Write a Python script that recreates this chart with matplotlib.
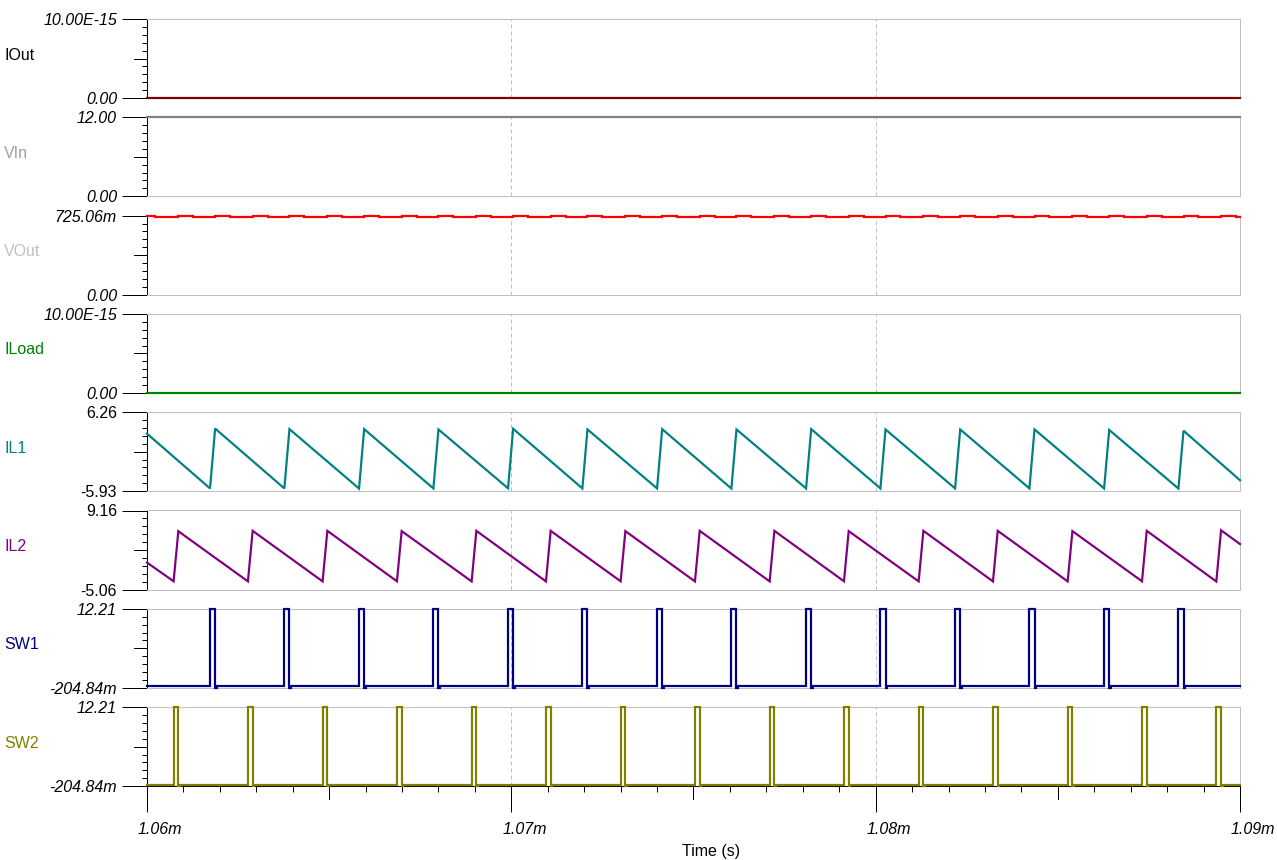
import matplotlib
matplotlib.use('Agg')
import matplotlib.pyplot as plt

plt.rcParams['font.family'] = ['Liberation Sans', 'DejaVu Sans']

W, H, DPI = 1277, 860, 100

# ---------------- data (time in microseconds) ----------------
T0, T1 = 1060.0, 1090.0
x_major = [1060, 1070, 1080, 1090]
x_major_labels = ['1.06m', '1.07m', '1.08m', '1.09m']
x_mid = [1065, 1075, 1085]
x_minor = list(range(1061, 1090))
x_grid = [1070, 1080]

names = ['IOut', 'VIn', 'VOut', 'ILoad', 'IL1', 'IL2', 'SW1', 'SW2']
y_bottom = [0.0, 0.0, 0.0, 0.0, -5.93, -5.06, -0.20484, -0.20484]
y_top = [10e-15, 12.0, 0.72506, 10e-15, 6.26, 9.16, 12.21, 12.21]
y_bottom_labels = ['0.00', '0.00', '0.00', '0.00', '-5.93', '-5.06', '-204.84m', '-204.84m']
y_top_labels = ['10.00E-15', '12.00', '725.06m', '10.00E-15', '6.26', '9.16', '12.21', '12.21']
label_italic = [True, True, True, True, False, False, True, True]
line_colors = ['#800000', '#808080', '#FF0000', '#008000', '#008080', '#800080', '#000080', '#808000']
name_colors = ['#000000', '#A0A0A0', '#C0C0C0', '#008000', '#008080', '#800080', '#000080', '#808000']

iout_t = [1060.0, 1090.0]
iout_v = [0.0, 0.0]
vin_t = [1060.0, 1090.0]
vin_v = [12.0, 12.0]
iload_t = [1060.0, 1090.0]
iload_v = [0.0, 0.0]

# IL1 (phase 1 inductor current): troughs and peaks per cycle
il1_trough_t = [1061.73, 1063.77, 1065.82, 1067.86, 1069.91, 1071.95, 1074.00,
                1076.04, 1078.09, 1080.13, 1082.18, 1084.22, 1086.27, 1088.31]
il1_peak_t = [1061.87, 1063.91, 1065.96, 1068.00, 1070.05, 1072.09, 1074.14,
              1076.18, 1078.23, 1080.27, 1082.32, 1084.36, 1086.41, 1088.45]
il1_trough_v = [-5.50, -5.50, -5.52, -5.50, -5.48, -5.50, -5.50,
                -5.52, -5.50, -5.50, -5.50, -5.50, -5.50, -5.52]
il1_peak_v = [3.74, 3.65, 3.65, 3.60, 3.70, 3.60, 3.65,
              3.60, 3.65, 3.60, 3.60, 3.60, 3.52, 3.40]
il1_start_v, il1_end_v = 2.95, -4.24

# IL2 (phase 2 inductor current)
il2_trough_t = [1060.73, 1062.77, 1064.82, 1066.86, 1068.91, 1070.95, 1073.00,
                1075.04, 1077.09, 1079.13, 1081.18, 1083.22, 1085.27, 1087.31, 1089.35]
il2_peak_t = [1060.86, 1062.90, 1064.95, 1066.99, 1069.04, 1071.08, 1073.13,
              1075.17, 1077.22, 1079.26, 1081.31, 1083.35, 1085.40, 1087.44, 1089.48]
il2_trough_v = [-3.58, -3.60, -3.60, -3.58, -3.60, -3.60, -3.58,
                -3.60, -3.60, -3.58, -3.60, -3.60, -3.60, -3.58, -3.62]
il2_peak_v = [5.43, 5.50, 5.50, 5.45, 5.50, 5.50, 5.45,
              5.50, 5.50, 5.45, 5.50, 5.50, 5.45, 5.50, 5.60]
il2_start_v, il2_end_v = -0.21, 3.12

# VOut ripple: high level after each inductor peak
vout_high, vout_low = 0.725, 0.716
vout_first_drop_t = 1060.22
vout_rise_t = sorted(il1_peak_t + il2_peak_t)
vout_high_dur = 0.41

# switch nodes
sw_high, sw_low, sw_under = 12.15, 0.0, -0.20
sw_under_dur = 0.04


# ---------------- build polylines from the read vertices ----------------
def sawtooth(start_v, tr_t, tr_v, pk_t, pk_v, end_v):
    t, v = [T0], [start_v]
    for a, b, c, d in zip(tr_t, tr_v, pk_t, pk_v):
        t += [a, c]
        v += [b, d]
    t.append(T1)
    v.append(end_v)
    return t, v


def pulses(tr_t, pk_t):
    t, v = [T0], [sw_low]
    for a, c in zip(tr_t, pk_t):
        t += [a, a, c, c, c + sw_under_dur, c + sw_under_dur]
        v += [sw_low, sw_high, sw_high, sw_under, sw_under, sw_low]
    t.append(T1)
    v.append(sw_low)
    return t, v


def vout_wave():
    t, v = [T0, vout_first_drop_t, vout_first_drop_t], [vout_high, vout_high, vout_low]
    for r in vout_rise_t:
        e = min(r + vout_high_dur, T1)
        t += [r, r, e, e]
        v += [vout_low, vout_high, vout_high, vout_low]
    t.append(T1)
    v.append(vout_low)
    return t, v


series = [
    (iout_t, iout_v),
    (vin_t, vin_v),
    vout_wave(),
    (iload_t, iload_v),
    sawtooth(il1_start_v, il1_trough_t, il1_trough_v, il1_peak_t, il1_peak_v, il1_end_v),
    sawtooth(il2_start_v, il2_trough_t, il2_trough_v, il2_peak_t, il2_peak_v, il2_end_v),
    pulses(il1_trough_t, il1_peak_t),
    pulses(il2_trough_t, il2_peak_t),
]

# ---------------- layout ----------------
fig = plt.figure(figsize=(W / DPI, H / DPI), dpi=DPI)
LEFT, RIGHT = 147, 1240
PANEL_TOP0, PANEL_STEP, PANEL_H = 19, 98.3, 79
px = 72.0 / DPI  # points per pixel
GRAY = '#C0C0C0'
FS = 11.5

for i, name in enumerate(names):
    top = PANEL_TOP0 + PANEL_STEP * i
    ax = fig.add_axes([LEFT / W, 1 - (top + PANEL_H) / H, (RIGHT - LEFT) / W, PANEL_H / H])
    ax.set_xlim(T0, T1)
    ax.set_ylim(y_bottom[i], y_top[i])
    last = (i == len(names) - 1)

    for s in ['top', 'right', 'bottom']:
        ax.spines[s].set_color(GRAY)
        ax.spines[s].set_linewidth(1 * px)
    ax.spines['left'].set_color('black')
    ax.spines['left'].set_linewidth(1 * px)
    if last:
        ax.spines['bottom'].set_color('black')

    for g in x_grid:
        ax.axvline(g, color=GRAY, lw=1 * px, ls=(0, (4, 3)), zorder=0.5)

    t, v = series[i]
    ax.plot(t, v, color=line_colors[i], lw=2.2 * px, clip_on=False, zorder=3,
            solid_joinstyle='miter')

    # y ticks
    yb, yt = y_bottom[i], y_top[i]
    ax.set_yticks([yb, yt], labels=['', ''])
    ax.set_yticks([yb + (yt - yb) * k / 10 for k in range(1, 10)], minor=True)
    ax.tick_params(axis='y', which='major', length=25 * px, width=1 * px, color='black',
                   direction='out')
    ax.tick_params(axis='y', which='minor', length=5 * px, width=1 * px, color='black',
                   direction='out')
    ymid = (yb + yt) / 2
    ax.plot([-13 / (RIGHT - LEFT), 0], [ymid, ymid], transform=ax.get_yaxis_transform(),
            color='black', lw=1 * px, clip_on=False)
    style = 'italic' if label_italic[i] else 'normal'
    for val, lab in [(yb, y_bottom_labels[i]), (yt, y_top_labels[i])]:
        ax.annotate(lab, xy=(0, val), xycoords=('axes fraction', 'data'),
                    xytext=(-30, 0), textcoords='offset pixels',
                    ha='right', va='center_baseline', fontsize=FS, style=style,
                    color='black', annotation_clip=False)

    # x ticks
    if last:
        ax.set_xticks(x_major, labels=['' for _ in x_major])
        ax.set_xticks(x_minor, minor=True)
        ax.tick_params(axis='x', which='major', length=26 * px, width=1 * px, color='black',
                       direction='out')
        ax.tick_params(axis='x', which='minor', length=6 * px, width=1 * px, color='black',
                       direction='out')
        for m in x_mid:
            ax.plot([m, m], [0, -13 / PANEL_H], transform=ax.get_xaxis_transform(),
                    color='black', lw=1 * px, clip_on=False)
        for xm, lab in zip(x_major, x_major_labels):
            ax.annotate(lab, xy=(xm, 0), xycoords=('data', 'axes fraction'),
                        xytext=(13, -42), textcoords='offset pixels',
                        ha='center', va='center_baseline', fontsize=FS, style='italic',
                        annotation_clip=False)
    else:
        ax.set_xticks([])

    fig.text(4 / W, 1 - (top + PANEL_H / 2 - 5) / H, name, ha='left', va='center_baseline',
             fontsize=FS, color=name_colors[i])

fig.text(711 / W, 1 - 850 / H, 'Time (s)', ha='center', va='center_baseline', fontsize=FS)

fig.savefig('out.png', dpi=DPI, facecolor='white')
